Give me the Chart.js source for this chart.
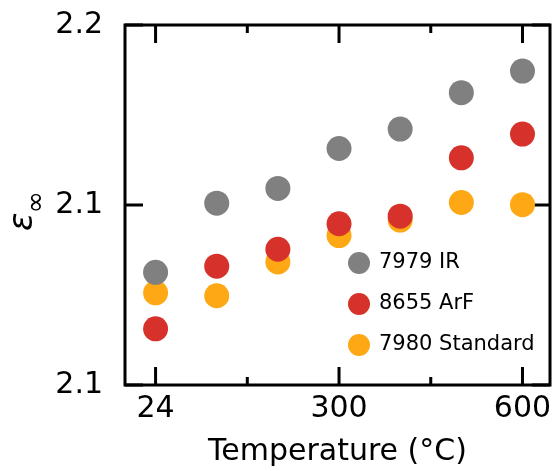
<!DOCTYPE html>
<html>
<head>
<meta charset="utf-8">
<script src="https://cdn.jsdelivr.net/npm/chart.js@4"></script>
<style>
  html, body { margin: 0; padding: 0; background: #fff; }
  #wrap { width: 555px; height: 471px; }
</style>
</head>
<body>
<div id="wrap"><canvas id="epsChart" width="555" height="471"></canvas></div>
<script>
// temperature steps (°C), one point per step
const temperatures = [24, 100, 200, 300, 400, 500, 600];

// high-frequency permittivity for each fused silica grade
const irValues       = [2.1313, 2.1505, 2.1546, 2.1657, 2.1711, 2.1812, 2.1872];
const arfValues      = [2.1156, 2.1330, 2.1377, 2.1448, 2.1469, 2.1631, 2.1697];
const standardValues = [2.1256, 2.1248, 2.1342, 2.1415, 2.1458, 2.1507, 2.1501];

const seriesNames  = ['7979 IR', '8655 ArF', '7980 Standard'];
const seriesColors = ['#808080', '#d6322b', '#fda814'];

// x positions are the step index; ticks every 1.5 steps, labelled on the majors
const xTickValues = [0, 1.5, 3, 4.5, 6];
const xTickLabels = ['24', '', '300', '', '600'];
const yTickValues = [2.10, 2.15, 2.20];
const yTickLabels = ['2.1', '2.1', '2.2'];

const FONT = '"DejaVu Sans", sans-serif';

function toPoints(values) {
  return values.map((v, i) => ({ x: i, y: v }));
}

// box frame with inward ticks on all four sides
const framePlugin = {
  id: 'frame',
  beforeDatasetsDraw(chart) {
    const { ctx, chartArea: a, scales } = chart;
    ctx.save();
    ctx.strokeStyle = '#000';
    ctx.lineWidth = 3;
    ctx.lineCap = 'butt';
    ctx.beginPath();
    xTickValues.forEach((v, i) => {
      const px = scales.x.getPixelForValue(v);
      const len = xTickLabels[i] ? 18 : 8;
      ctx.moveTo(px, a.bottom); ctx.lineTo(px, a.bottom - len);
      ctx.moveTo(px, a.top);    ctx.lineTo(px, a.top + len);
    });
    yTickValues.forEach(v => {
      const py = scales.y.getPixelForValue(v);
      ctx.moveTo(a.left, py);  ctx.lineTo(a.left + 18, py);
      ctx.moveTo(a.right, py); ctx.lineTo(a.right - 18, py);
    });
    ctx.stroke();
    ctx.strokeRect(a.left, a.top, a.right - a.left, a.bottom - a.top);
    ctx.restore();
  }
};

// y title (epsilon with infinity subscript) and the in-plot legend
const labelPlugin = {
  id: 'labels',
  afterDraw(chart) {
    const { ctx } = chart;
    ctx.save();
    ctx.fillStyle = '#000';
    ctx.translate(32, 231);
    ctx.rotate(-Math.PI / 2);
    ctx.textAlign = 'left';
    ctx.textBaseline = 'alphabetic';
    ctx.font = 'italic 34px ' + FONT;
    ctx.fillText('ε', 0, 0);
    const w = ctx.measureText('ε').width;
    ctx.font = '27px ' + FONT;
    ctx.fillText('∞', w - 1, 12);
    ctx.restore();

    const rows = [263, 304, 345];
    ctx.save();
    ctx.font = '21px ' + FONT;
    ctx.textAlign = 'left';
    ctx.textBaseline = 'middle';
    chart.data.datasets.forEach((ds, i) => {
      ctx.fillStyle = ds.backgroundColor;
      ctx.beginPath();
      ctx.arc(359, rows[i], 11, 0, Math.PI * 2);
      ctx.fill();
      ctx.fillStyle = '#000';
      ctx.fillText(ds.label, 379, rows[i]);
    });
    ctx.restore();
  }
};

const datasets = [irValues, arfValues, standardValues].map((vals, i) => ({
  label: seriesNames[i],
  data: toPoints(vals),
  backgroundColor: seriesColors[i],
  borderWidth: 0,
  pointRadius: 12.5,
  pointHoverRadius: 12.5
}));

new Chart(document.getElementById('epsChart'), {
  type: 'scatter',
  data: { datasets },
  options: {
    responsive: false,
    animation: false,
    layout: { autoPadding: false, padding: { top: 25, right: 5, left: 0, bottom: 0 } },
    plugins: { legend: { display: false }, tooltip: { enabled: false } },
    scales: {
      x: {
        type: 'linear',
        min: -0.5,
        max: 6.45,
        grid: { display: false },
        border: { display: false },
        afterBuildTicks: s => { s.ticks = xTickValues.map(v => ({ value: v })); },
        afterFit: s => { s.height = 86; s.paddingLeft = 0; s.paddingRight = 0; },
        ticks: {
          autoSkip: false,
          maxRotation: 0,
          padding: -2,
          color: '#000',
          font: { family: FONT, size: 30 },
          callback: (v, i) => xTickLabels[i]
        },
        title: {
          display: true,
          text: 'Temperature (°C)',
          color: '#000',
          font: { family: FONT, size: 30 },
          padding: { top: 0, bottom: 1 }
        }
      },
      y: {
        min: 2.10,
        max: 2.20,
        grid: { display: false },
        border: { display: false },
        afterBuildTicks: s => { s.ticks = yTickValues.map(v => ({ value: v })); },
        afterFit: s => { s.width = 125; s.paddingTop = 0; s.paddingBottom = 0; },
        ticks: {
          padding: 14,
          color: '#000',
          font: { family: FONT, size: 30 },
          callback: (v, i) => yTickLabels[i]
        }
      }
    }
  },
  plugins: [framePlugin, labelPlugin]
});
</script>
</body>
</html>
